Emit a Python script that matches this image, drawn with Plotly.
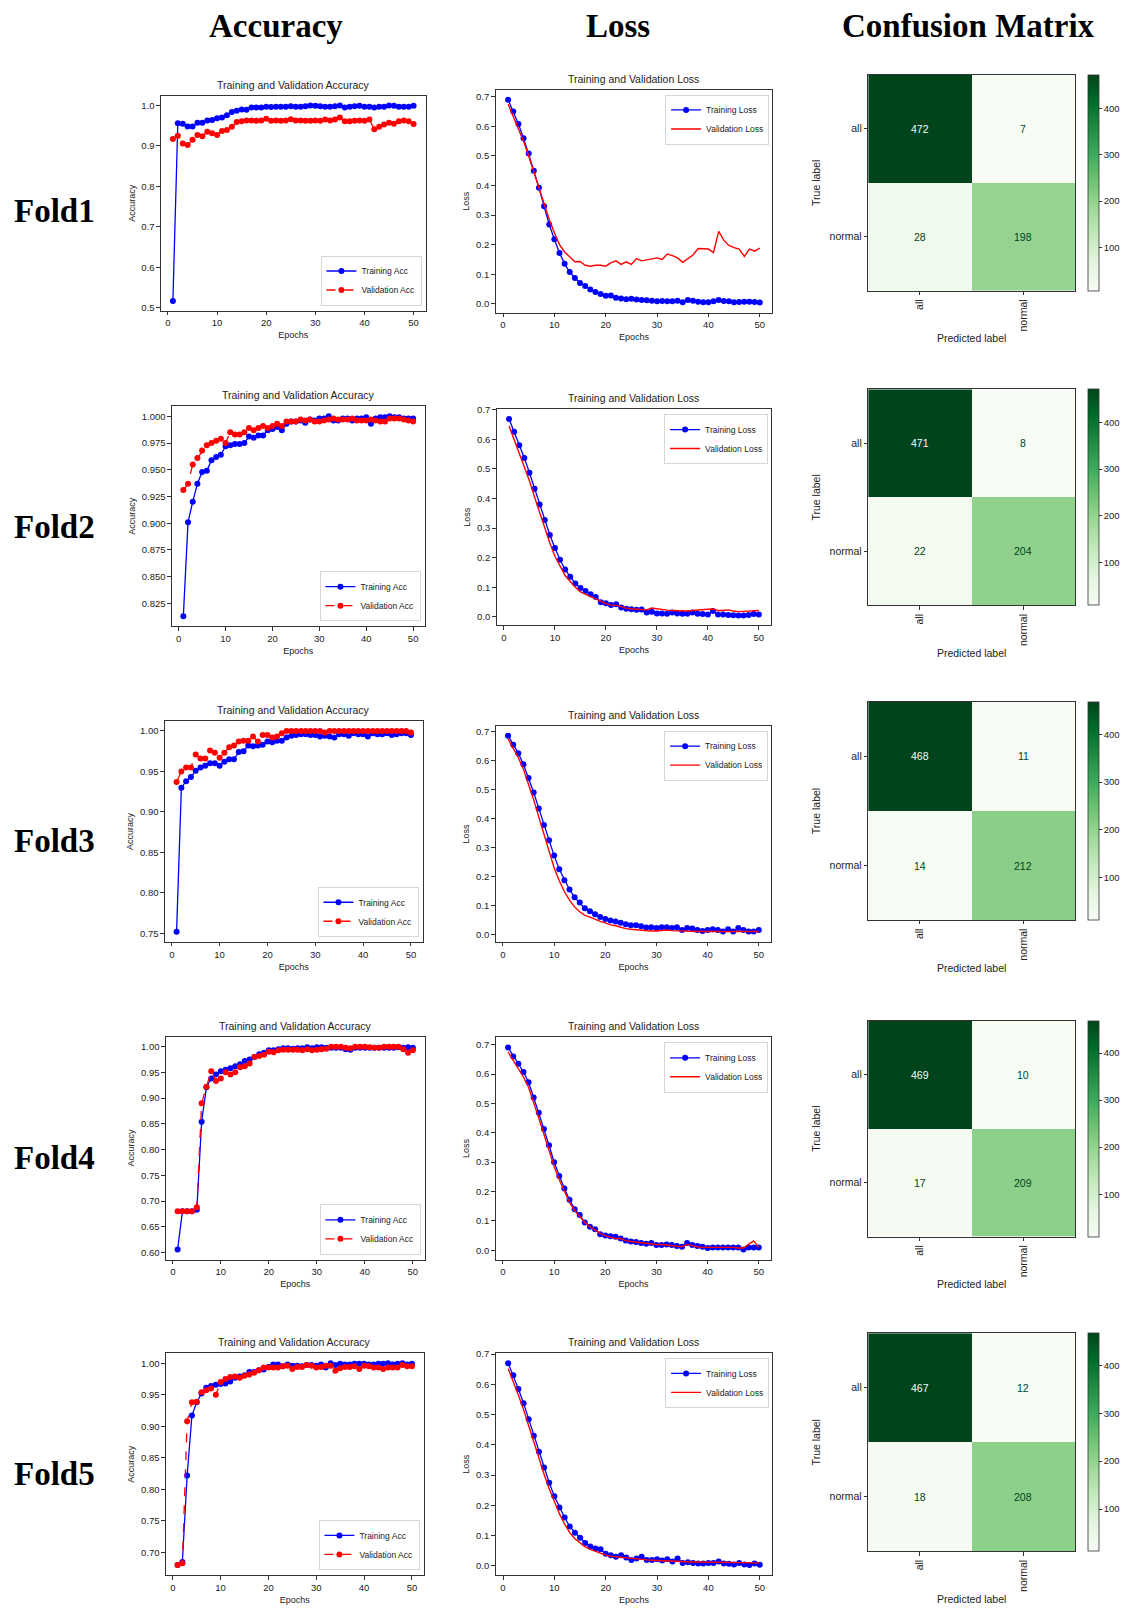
import plotly.graph_objects as go

W, H = 1129, 1616
epochs = list(range(1, 51))

# ---------------- Fold 1 ----------------
acc_train_f1 = [0.517, 0.956, 0.955, 0.948, 0.948, 0.957, 0.957, 0.963, 0.964, 0.968,
                0.970, 0.976, 0.984, 0.987, 0.990, 0.989, 0.995, 0.995, 0.995, 0.997,
                0.996, 0.997, 0.997, 0.997, 0.998, 0.997, 0.997, 0.998, 1.000, 0.999,
                0.998, 0.997, 0.997, 0.998, 1.000, 0.995, 0.997, 0.998, 0.999, 0.997,
                0.997, 0.995, 0.997, 0.997, 1.000, 0.999, 0.997, 0.997, 0.997, 0.999]
acc_val_f1 = [0.917, 0.925, 0.906, 0.902, 0.915, 0.927, 0.924, 0.935, 0.931, 0.927,
              0.937, 0.939, 0.947, 0.959, 0.961, 0.963, 0.963, 0.962, 0.963, 0.967,
              0.962, 0.963, 0.962, 0.963, 0.966, 0.963, 0.963, 0.962, 0.962, 0.963,
              0.962, 0.965, 0.963, 0.965, 0.970, 0.961, 0.961, 0.962, 0.963, 0.962,
              0.965, 0.941, 0.947, 0.953, 0.957, 0.955, 0.961, 0.963, 0.961, 0.954]
loss_train_f1 = [0.690, 0.650, 0.608, 0.560, 0.508, 0.450, 0.392, 0.330, 0.268, 0.218,
                 0.172, 0.135, 0.107, 0.087, 0.070, 0.060, 0.048, 0.040, 0.033, 0.027,
                 0.028, 0.020, 0.018, 0.015, 0.017, 0.014, 0.013, 0.012, 0.010, 0.008,
                 0.009, 0.008, 0.008, 0.010, 0.005, 0.013, 0.010, 0.007, 0.005, 0.005,
                 0.008, 0.013, 0.009, 0.008, 0.005, 0.006, 0.007, 0.007, 0.006, 0.004]
loss_val_f1 = [0.675, 0.635, 0.590, 0.550, 0.500, 0.445, 0.390, 0.335, 0.285, 0.240,
               0.200, 0.175, 0.158, 0.142, 0.143, 0.130, 0.127, 0.130, 0.130, 0.127,
               0.138, 0.145, 0.133, 0.142, 0.133, 0.153, 0.145, 0.148, 0.152, 0.155,
               0.150, 0.168, 0.163, 0.155, 0.140, 0.152, 0.165, 0.187, 0.185, 0.185,
               0.173, 0.245, 0.215, 0.197, 0.190, 0.185, 0.160, 0.185, 0.178, 0.188]
cm_f1 = [[472, 7], [28, 198]]

# ---------------- Fold 2 ----------------
acc_train_f2 = [0.813, 0.901, 0.920, 0.937, 0.948, 0.949, 0.959, 0.962, 0.964, 0.972,
                0.973, 0.974, 0.974, 0.975, 0.981, 0.980, 0.982, 0.982, 0.987, 0.988,
                0.990, 0.987, 0.993, 0.995, 0.995, 0.996, 0.994, 0.997, 0.996, 0.998,
                0.998, 1.000, 0.996, 0.996, 0.998, 0.998, 0.996, 0.998, 0.998, 0.999,
                0.993, 0.998, 0.999, 0.999, 1.000, 0.999, 0.999, 0.998, 0.998, 0.998]
acc_val_f2 = [0.931, 0.937, 0.955, 0.961, 0.968, 0.973, 0.975, 0.977, 0.979, 0.975,
              0.985, 0.983, 0.983, 0.985, 0.989, 0.987, 0.989, 0.991, 0.989, 0.991,
              0.993, 0.991, 0.995, 0.995, 0.995, 0.997, 0.996, 0.997, 0.995, 0.995,
              0.996, 0.997, 0.998, 0.997, 0.997, 0.997, 0.998, 0.996, 0.996, 0.996,
              0.997, 0.996, 0.995, 0.995, 0.998, 0.998, 0.998, 0.997, 0.996, 0.995]
loss_train_f2 = [0.668, 0.625, 0.580, 0.537, 0.487, 0.433, 0.380, 0.327, 0.277, 0.233,
                 0.193, 0.160, 0.136, 0.113, 0.098, 0.088, 0.077, 0.067, 0.050, 0.046,
                 0.040, 0.043, 0.032, 0.028, 0.026, 0.024, 0.025, 0.015, 0.018, 0.012,
                 0.012, 0.011, 0.015, 0.012, 0.011, 0.011, 0.015, 0.011, 0.010, 0.008,
                 0.020, 0.008, 0.008, 0.007, 0.006, 0.005, 0.005, 0.007, 0.010, 0.008]
loss_val_f2 = [0.645, 0.600, 0.555, 0.510, 0.460, 0.405, 0.352, 0.300, 0.250, 0.205,
               0.170, 0.140, 0.120, 0.100, 0.085, 0.077, 0.068, 0.060, 0.052, 0.045,
               0.040, 0.040, 0.035, 0.030, 0.028, 0.026, 0.025, 0.024, 0.030, 0.027,
               0.025, 0.023, 0.022, 0.021, 0.020, 0.020, 0.022, 0.024, 0.024, 0.026,
               0.027, 0.022, 0.022, 0.024, 0.020, 0.018, 0.019, 0.020, 0.022, 0.022]
cm_f2 = [[471, 8], [22, 204]]

# ---------------- Fold 3 ----------------
acc_train_f3 = [0.752, 0.930, 0.938, 0.943, 0.951, 0.955, 0.957, 0.960, 0.960, 0.957,
                0.962, 0.965, 0.965, 0.974, 0.975, 0.982, 0.981, 0.982, 0.983, 0.987,
                0.986, 0.988, 0.988, 0.992, 0.994, 0.995, 0.996, 0.996, 0.995, 0.995,
                0.993, 0.994, 0.993, 0.992, 0.996, 0.996, 0.994, 0.997, 0.996, 0.996,
                0.993, 0.997, 0.996, 0.996, 0.997, 0.995, 0.996, 0.997, 0.997, 0.995]
acc_val_f3 = [0.937, 0.950, 0.955, 0.955, 0.971, 0.966, 0.966, 0.976, 0.973, 0.967,
              0.973, 0.980, 0.982, 0.987, 0.988, 0.988, 0.993, 0.987, 0.995, 0.995,
              0.992, 0.993, 0.997, 1.000, 1.000, 1.000, 1.000, 1.000, 1.000, 1.000,
              1.000, 0.998, 1.000, 1.000, 1.000, 1.000, 1.000, 1.000, 1.000, 1.000,
              1.000, 1.000, 1.000, 1.000, 1.000, 1.000, 1.000, 1.000, 1.000, 0.998]
loss_train_f3 = [0.686, 0.655, 0.625, 0.587, 0.540, 0.490, 0.435, 0.378, 0.325, 0.272,
                 0.225, 0.187, 0.155, 0.128, 0.110, 0.090, 0.080, 0.070, 0.060, 0.053,
                 0.048, 0.045, 0.040, 0.035, 0.032, 0.032, 0.028, 0.024, 0.025, 0.022,
                 0.025, 0.025, 0.022, 0.025, 0.015, 0.022, 0.020, 0.015, 0.012, 0.015,
                 0.018, 0.015, 0.010, 0.018, 0.010, 0.022, 0.015, 0.010, 0.010, 0.015]
loss_val_f3 = [0.675, 0.645, 0.610, 0.570, 0.520, 0.465, 0.405, 0.345, 0.285, 0.230,
               0.185, 0.148, 0.118, 0.095, 0.078, 0.066, 0.060, 0.052, 0.045, 0.040,
               0.033, 0.030, 0.025, 0.020, 0.018, 0.016, 0.015, 0.013, 0.012, 0.012,
               0.013, 0.015, 0.013, 0.012, 0.012, 0.011, 0.011, 0.010, 0.010, 0.010,
               0.010, 0.009, 0.009, 0.008, 0.009, 0.008, 0.008, 0.008, 0.008, 0.010]
cm_f3 = [[468, 11], [14, 212]]

# ---------------- Fold 4 ----------------
acc_train_f4 = [0.606, 0.680, 0.680, 0.680, 0.683, 0.854, 0.921, 0.938, 0.946, 0.952,
                0.955, 0.958, 0.962, 0.966, 0.972, 0.975, 0.980, 0.985, 0.988, 0.993,
                0.993, 0.995, 0.997, 0.997, 0.996, 0.997, 0.997, 0.999, 0.997, 0.999,
                0.999, 0.998, 0.998, 0.998, 0.998, 0.995, 0.994, 0.998, 0.998, 0.998,
                0.998, 0.998, 0.998, 0.998, 0.998, 0.998, 0.999, 0.998, 0.999, 0.998]
acc_val_f4 = [0.680, 0.680, 0.680, 0.680, 0.688, 0.890, 0.922, 0.952, 0.933, 0.938,
              0.950, 0.946, 0.950, 0.960, 0.962, 0.967, 0.980, 0.982, 0.984, 0.990,
              0.989, 0.993, 0.994, 0.994, 0.994, 0.994, 0.993, 0.995, 0.993, 0.994,
              0.995, 0.996, 1.000, 1.000, 1.000, 0.998, 0.997, 1.000, 1.000, 1.000,
              0.999, 0.998, 0.998, 1.000, 1.000, 1.000, 1.000, 0.995, 0.988, 0.993]
loss_train_f4 = [0.690, 0.660, 0.635, 0.607, 0.572, 0.520, 0.468, 0.413, 0.358, 0.300,
                 0.253, 0.210, 0.172, 0.140, 0.120, 0.095, 0.080, 0.072, 0.055, 0.050,
                 0.048, 0.046, 0.040, 0.033, 0.030, 0.028, 0.025, 0.022, 0.025, 0.018,
                 0.018, 0.020, 0.018, 0.015, 0.012, 0.025, 0.018, 0.015, 0.012, 0.008,
                 0.010, 0.010, 0.010, 0.010, 0.010, 0.010, 0.003, 0.010, 0.010, 0.010]
loss_val_f4 = [0.675, 0.648, 0.620, 0.590, 0.555, 0.505, 0.450, 0.395, 0.338, 0.285,
               0.240, 0.200, 0.163, 0.135, 0.115, 0.095, 0.080, 0.068, 0.058, 0.050,
               0.045, 0.040, 0.040, 0.033, 0.030, 0.028, 0.025, 0.022, 0.022, 0.020,
               0.020, 0.018, 0.015, 0.012, 0.012, 0.020, 0.015, 0.012, 0.010, 0.010,
               0.010, 0.012, 0.010, 0.010, 0.010, 0.008, 0.008, 0.020, 0.032, 0.010]
cm_f4 = [[469, 10], [17, 209]]

# ---------------- Fold 5 ----------------
acc_train_f5 = [0.680, 0.685, 0.822, 0.917, 0.938, 0.952, 0.961, 0.964, 0.966, 0.967,
                0.968, 0.971, 0.977, 0.979, 0.981, 0.986, 0.986, 0.989, 0.990, 0.994,
                0.998, 0.998, 0.995, 0.998, 0.996, 0.996, 0.995, 0.997, 0.997, 0.996,
                0.998, 0.993, 1.000, 0.997, 0.999, 0.998, 0.998, 0.999, 0.999, 0.999,
                0.998, 0.998, 0.999, 0.999, 1.000, 0.998, 0.999, 1.000, 0.998, 0.999]
acc_val_f5 = [0.680, 0.683, 0.908, 0.938, 0.939, 0.954, 0.957, 0.960, 0.950, 0.970,
              0.975, 0.978, 0.979, 0.977, 0.980, 0.982, 0.985, 0.989, 0.993, 0.993,
              0.993, 0.993, 0.995, 0.996, 0.991, 0.994, 0.994, 0.997, 0.996, 0.993,
              0.994, 0.996, 0.996, 0.988, 0.992, 0.994, 0.994, 0.995, 0.991, 0.996,
              0.995, 0.993, 0.993, 0.991, 0.993, 0.993, 0.993, 0.997, 0.995, 0.995]
loss_train_f5 = [0.670, 0.630, 0.585, 0.538, 0.485, 0.430, 0.377, 0.325, 0.275, 0.230,
                 0.193, 0.160, 0.130, 0.110, 0.093, 0.076, 0.064, 0.058, 0.055, 0.040,
                 0.035, 0.030, 0.035, 0.028, 0.020, 0.025, 0.030, 0.020, 0.020, 0.022,
                 0.018, 0.022, 0.015, 0.025, 0.010, 0.012, 0.010, 0.008, 0.008, 0.010,
                 0.010, 0.015, 0.008, 0.007, 0.005, 0.010, 0.005, 0.003, 0.008, 0.004]
loss_val_f5 = [0.652, 0.610, 0.565, 0.517, 0.463, 0.408, 0.355, 0.303, 0.255, 0.210,
               0.172, 0.138, 0.110, 0.090, 0.075, 0.063, 0.055, 0.048, 0.042, 0.036,
               0.032, 0.030, 0.028, 0.026, 0.024, 0.022, 0.022, 0.020, 0.019, 0.018,
               0.017, 0.016, 0.016, 0.015, 0.014, 0.014, 0.013, 0.013, 0.013, 0.013,
               0.012, 0.012, 0.012, 0.012, 0.012, 0.011, 0.011, 0.010, 0.010, 0.010]
cm_f5 = [[467, 12], [18, 208]]

class_labels = ["all", "normal"]
fold_names = ["Fold1", "Fold2", "Fold3", "Fold4", "Fold5"]
column_titles = ["Accuracy", "Loss", "Confusion Matrix"]
epoch_ticks = [0, 10, 20, 30, 40, 50]
loss_yticks = [0.0, 0.1, 0.2, 0.3, 0.4, 0.5, 0.6, 0.7]
acc_yticks = [
    [0.5, 0.6, 0.7, 0.8, 0.9, 1.0],
    [0.825, 0.850, 0.875, 0.900, 0.925, 0.950, 0.975, 1.000],
    [0.75, 0.80, 0.85, 0.90, 0.95, 1.00],
    [0.60, 0.65, 0.70, 0.75, 0.80, 0.85, 0.90, 0.95, 1.00],
    [0.70, 0.75, 0.80, 0.85, 0.90, 0.95, 1.00],
]
acc_tickfmt = [".1f", ".3f", ".2f", ".2f", ".2f"]
cb_ticks = [100, 200, 300, 400]

acc_train = [acc_train_f1, acc_train_f2, acc_train_f3, acc_train_f4, acc_train_f5]
acc_val = [acc_val_f1, acc_val_f2, acc_val_f3, acc_val_f4, acc_val_f5]
loss_train = [loss_train_f1, loss_train_f2, loss_train_f3, loss_train_f4, loss_train_f5]
loss_val = [loss_val_f1, loss_val_f2, loss_val_f3, loss_val_f4, loss_val_f5]
cms = [cm_f1, cm_f2, cm_f3, cm_f4, cm_f5]

# ---------------- layout geometry (page pixels) ----------------
acc_box = [(161, 426, 91, 307), (172, 425, 403, 624), (165, 423, 719, 941),
           (166, 425, 1036, 1260), (166, 424, 1354, 1577)]
loss_box = [(496, 773, 85, 309), (497, 772, 406, 623), (496, 772, 724, 941),
            (496, 772, 1037, 1260), (496, 773, 1354, 1577)]
cm_box = [(869, 1076, 70, 287), (869, 1076, 386, 603), (869, 1076, 700, 919),
          (869, 1076, 1020, 1237), (869, 1076, 1334, 1553)]
cbar_left, cbar_w = 1089, 11
fold_label_y = [207, 524, 840, 1158, 1475]
col_title_x = [276, 619, 969]

greens = [[0.0, "#f7fcf5"], [0.125, "#e5f5e0"], [0.25, "#c7e9c0"], [0.375, "#a1d99b"],
          [0.5, "#74c476"], [0.625, "#41ab5d"], [0.75, "#238b45"], [0.875, "#006d2c"],
          [1.0, "#00441b"]]

TXT = "#222222"
SANS = "Liberation Sans"

# the page body has an 8px margin on every side; keep the figure inside the viewport
OFF = 8
WF, HF = W - 2 * OFF, H - 2 * OFF


def px(x):
    return (x - OFF) / WF


def py(y):
    return 1 - (y - OFF) / HF


def xd(l, r):
    return [px(l), px(r)]


def yd(t, b):
    return [py(b), py(t)]


def mpl_range(*series):
    lo = min(min(s) for s in series)
    hi = max(max(s) for s in series)
    pad = 0.05 * (hi - lo)
    return [lo - pad, hi + pad]


def ax_key(kind, n):
    return kind + "axis" if n == 1 else f"{kind}axis{n}"


def ax_ref(kind, n):
    return kind if n == 1 else f"{kind}{n}"


def leg_key(k):
    return "legend" if k == 1 else f"legend{k}"


base_axis = dict(showline=True, mirror=True, linecolor="#333333", linewidth=0.8,
                 ticks="outside", ticklen=3.5, tickwidth=0.8, tickcolor="#333333",
                 showgrid=False, zeroline=False,
                 tickfont=dict(family=SANS, size=9.5, color=TXT))

fig = go.Figure()
layout = dict(width=WF, height=HF, margin=dict(l=0, r=0, t=0, b=0),
              paper_bgcolor="white", plot_bgcolor="white",
              font=dict(family=SANS, color=TXT), annotations=[])
xr = mpl_range(epochs)
leg_style = dict(bgcolor="rgba(255,255,255,0.85)", bordercolor="#cccccc", borderwidth=0.8,
                 font=dict(size=8.5, color=TXT), itemwidth=30, tracegroupgap=0)

for i in range(5):
    na, nl, nc = 3 * i + 1, 3 * i + 2, 3 * i + 3
    la, ll = 2 * i + 1, 2 * i + 2

    # ---- accuracy ----
    fig.add_trace(go.Scatter(x=epochs, y=acc_train[i], mode="lines+markers", name="Training Acc",
                             line=dict(color="#0000ff", width=1.3), marker=dict(color="#0000ff", size=6),
                             xaxis=ax_ref("x", na), yaxis=ax_ref("y", na), legend=leg_key(la)))
    fig.add_trace(go.Scatter(x=epochs, y=acc_val[i], mode="lines+markers", name="Validation Acc",
                             line=dict(color="#ff0000", width=1.3, dash="dash"),
                             marker=dict(color="#ff0000", size=6),
                             xaxis=ax_ref("x", na), yaxis=ax_ref("y", na), legend=leg_key(la)))
    l, r, t, b = acc_box[i]
    layout[ax_key("x", na)] = dict(base_axis, domain=xd(l, r), anchor=ax_ref("y", na), range=xr,
                                   tickvals=epoch_ticks,
                                   title=dict(text="Epochs", font=dict(size=9, color=TXT), standoff=4))
    layout[ax_key("y", na)] = dict(base_axis, domain=yd(t, b), anchor=ax_ref("x", na),
                                   range=mpl_range(acc_train[i], acc_val[i]),
                                   tickvals=acc_yticks[i], tickformat=acc_tickfmt[i],
                                   title=dict(text="Accuracy", font=dict(size=9, color=TXT), standoff=4))
    layout[leg_key(la)] = dict(leg_style, x=px(r - 4), y=py(b - 5), xanchor="right", yanchor="bottom")
    layout["annotations"].append(dict(text="Training and Validation Accuracy", x=px((l + r) / 2),
                                      y=py(t), xref="paper", yref="paper", xanchor="center",
                                      yanchor="bottom", yshift=3, showarrow=False,
                                      font=dict(size=10.5, color=TXT)))

    # ---- loss ----
    fig.add_trace(go.Scatter(x=epochs, y=loss_train[i], mode="lines+markers", name="Training Loss",
                             line=dict(color="#0000ff", width=1.3), marker=dict(color="#0000ff", size=6),
                             xaxis=ax_ref("x", nl), yaxis=ax_ref("y", nl), legend=leg_key(ll)))
    fig.add_trace(go.Scatter(x=epochs, y=loss_val[i], mode="lines", name="Validation Loss",
                             line=dict(color="#ff0000", width=1.4),
                             xaxis=ax_ref("x", nl), yaxis=ax_ref("y", nl), legend=leg_key(ll)))
    l, r, t, b = loss_box[i]
    layout[ax_key("x", nl)] = dict(base_axis, domain=xd(l, r), anchor=ax_ref("y", nl), range=xr,
                                   tickvals=epoch_ticks,
                                   title=dict(text="Epochs", font=dict(size=9, color=TXT), standoff=4))
    layout[ax_key("y", nl)] = dict(base_axis, domain=yd(t, b), anchor=ax_ref("x", nl),
                                   range=mpl_range(loss_train[i], loss_val[i]),
                                   tickvals=loss_yticks, tickformat=".1f",
                                   title=dict(text="Loss", font=dict(size=9, color=TXT), standoff=4))
    layout[leg_key(ll)] = dict(leg_style, x=px(r - 3), y=py(t + 5), xanchor="right", yanchor="top")
    layout["annotations"].append(dict(text="Training and Validation Loss", x=px((l + r) / 2),
                                      y=py(t), xref="paper", yref="paper", xanchor="center",
                                      yanchor="bottom", yshift=3, showarrow=False,
                                      font=dict(size=10.5, color=TXT)))

    # ---- confusion matrix ----
    cm = cms[i]
    l, r, t, b = cm_box[i]
    zmin = min(min(row) for row in cm)
    zmax = max(max(row) for row in cm)
    fig.add_trace(go.Heatmap(z=cm, x=class_labels, y=class_labels, colorscale=greens,
                             zmin=zmin, zmax=zmax, showscale=True,
                             colorbar=dict(x=px(cbar_left), xanchor="left", xref="paper",
                                           y=py(t), yanchor="top", len=(b - t) / HF,
                                           lenmode="fraction", thickness=cbar_w, thicknessmode="pixels",
                                           xpad=0, ypad=0, outlinewidth=0.8, outlinecolor="#333333",
                                           ticks="outside", ticklen=3, tickwidth=0.8,
                                           tickcolor="#333333", tickvals=cb_ticks,
                                           tickfont=dict(family=SANS, size=9.5, color=TXT)),
                             hoverinfo="skip",
                             xaxis=ax_ref("x", nc), yaxis=ax_ref("y", nc)))
    layout[ax_key("x", nc)] = dict(base_axis, domain=xd(l, r), anchor=ax_ref("y", nc),
                                   range=[-0.5, 1.5], tickangle=-90,
                                   tickfont=dict(family=SANS, size=10.5, color=TXT),
                                   title=dict(text="Predicted label", font=dict(size=10.5, color=TXT),
                                              standoff=4))
    layout[ax_key("y", nc)] = dict(base_axis, domain=yd(t, b), anchor=ax_ref("x", nc),
                                   range=[1.5, -0.5],
                                   tickfont=dict(family=SANS, size=10.5, color=TXT),
                                   title=dict(text="True label", font=dict(size=10.5, color=TXT),
                                              standoff=6))
    thresh = (zmin + zmax) / 2.0
    for rr in range(2):
        for cc in range(2):
            v = cm[rr][cc]
            layout["annotations"].append(dict(
                text=str(v), x=class_labels[cc], y=class_labels[rr],
                xref=ax_ref("x", nc), yref=ax_ref("y", nc), showarrow=False,
                font=dict(size=10.5, color="#f7fcf5" if v >= thresh else "#00441b")))

    # ---- fold label ----
    layout["annotations"].append(dict(text="<b>" + fold_names[i] + "</b>", x=px(12),
                                      y=py(fold_label_y[i]), xref="paper", yref="paper",
                                      xanchor="left", yanchor="middle", showarrow=False,
                                      font=dict(family="Liberation Serif", size=33, color="black")))

for j, txt in enumerate(column_titles):
    layout["annotations"].append(dict(text="<b>" + txt + "</b>", x=px(col_title_x[j]), y=py(21),
                                      xref="paper", yref="paper", xanchor="center", yanchor="middle",
                                      showarrow=False,
                                      font=dict(family="Liberation Serif", size=33, color="black")))

fig.update_layout(**layout)
fig.write_html("out.html")
